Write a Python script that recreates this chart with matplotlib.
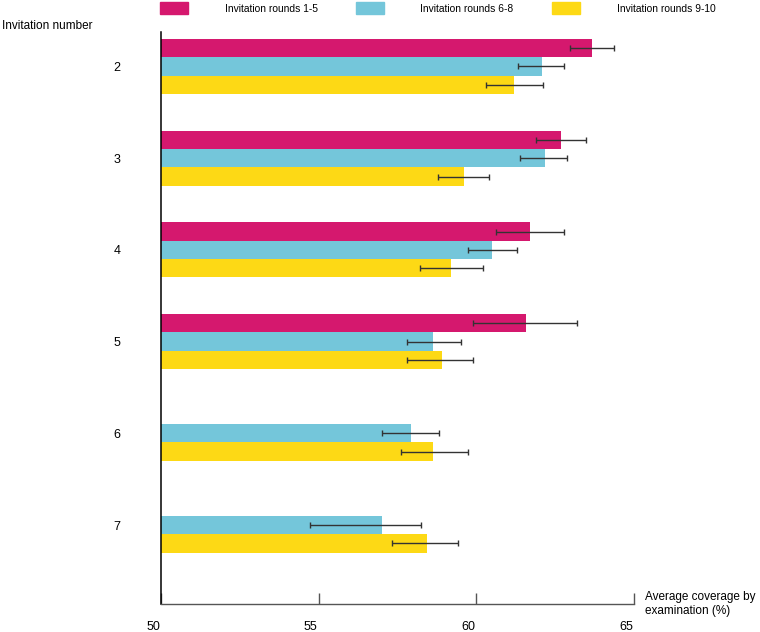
import numpy as np
import matplotlib
matplotlib.use("Agg")
import matplotlib.pyplot as plt
from matplotlib.patches import Rectangle
from matplotlib.transforms import ScaledTranslation

plt.rcParams['font.family'] = ['Liberation Sans', 'DejaVu Sans']

# ---- data ----
invitation_numbers = [2, 3, 4, 5, 6, 7]
series_labels = ["Invitation rounds 1-5", "Invitation rounds 6-8", "Invitation rounds 9-10"]
series_colors = ["#D5186E", "#74C6DA", "#FDD915"]

rounds_1_5 = [63.68, 62.70, 61.69, 61.59, np.nan, np.nan]
rounds_1_5_err_lo = [0.70, 0.80, 1.08, 1.69, np.nan, np.nan]
rounds_1_5_err_hi = [0.70, 0.79, 1.10, 1.60, np.nan, np.nan]

rounds_6_8 = [62.09, 62.19, 60.50, 58.61, 57.93, 57.02]
rounds_6_8_err_lo = [0.78, 0.80, 0.78, 0.80, 0.91, 2.28]
rounds_6_8_err_hi = [0.70, 0.70, 0.80, 0.89, 0.89, 1.21]

rounds_9_10 = [61.19, 59.61, 59.21, 58.92, 58.62, 58.42]
rounds_9_10_err_lo = [0.88, 0.82, 1.00, 1.11, 1.00, 1.08]
rounds_9_10_err_hi = [0.91, 0.80, 0.99, 0.98, 1.10, 1.01]

x_ticks = [50, 55, 60, 65]
x_label = "Average coverage by\nexamination (%)"
y_label = "Invitation number"

# ---- figure ----
W, H = 760, 632
fig = plt.figure(figsize=(W / 100, H / 100), dpi=100)
ax = fig.add_axes([161 / W, 1 - 604 / H, (634 - 161) / W, (604 - 32) / H])

y = np.arange(len(invitation_numbers), dtype=float)
bh = 0.2
series = [
    (rounds_1_5, rounds_1_5_err_lo, rounds_1_5_err_hi),
    (rounds_6_8, rounds_6_8_err_lo, rounds_6_8_err_hi),
    (rounds_9_10, rounds_9_10_err_lo, rounds_9_10_err_hi),
]
offsets = [-bh, 0, bh]
for (vals, lo, hi), off, col in zip(series, offsets, series_colors):
    vals = np.array(vals, dtype=float)
    mask = ~np.isnan(vals)
    ys = y[mask] + off
    ax.barh(ys, vals[mask], height=bh, color=col, left=0, zorder=2)
    ax.errorbar(vals[mask], ys,
                xerr=[np.array(lo)[mask], np.array(hi)[mask]],
                fmt='none', ecolor='#333333', elinewidth=1.0,
                capsize=2.5, capthick=1.0, zorder=3)

ax.set_xlim(50, 65)
ax.set_ylim(len(invitation_numbers) - 1 + 0.861, -0.376)
ax.set_xticks(x_ticks)
ax.set_xticklabels([str(t) for t in x_ticks], fontsize=9)
ax.set_yticks(y)
ax.set_yticklabels([str(n) for n in invitation_numbers], fontsize=9)

for s in ['top', 'right']:
    ax.spines[s].set_visible(False)
ax.spines['left'].set_color('black')
ax.spines['left'].set_linewidth(1.1)
ax.spines['bottom'].set_color('#555555')
ax.spines['bottom'].set_linewidth(1.0)
ax.tick_params(axis='x', direction='in', length=8, width=1, color='#555555', pad=12)
ax.tick_params(axis='y', length=0, pad=29)

# x tick labels sit slightly left of their ticks in the reference
shift = ScaledTranslation(-8 / 100, 0, fig.dpi_scale_trans)
for lbl in ax.get_xticklabels():
    lbl.set_transform(lbl.get_transform() + shift)

# axis titles
fig.text(2 / W, 1 - 26 / H, y_label, fontsize=8.5, ha='left', va='center')
fig.text(645 / W, 1 - 604 / H, x_label, fontsize=8.5, ha='left', va='center',
         linespacing=1.25)

# legend at top
patch_x = [160, 356, 552]
text_x = [225, 420, 617]
for px, tx, col, lab in zip(patch_x, text_x, series_colors, series_labels):
    fig.add_artist(Rectangle((px / W, 1 - 14 / H), 28 / W, 12 / H,
                             transform=fig.transFigure, color=col))
    fig.text(tx / W, 1 - 9 / H, lab, fontsize=7.4, ha='left', va='center')

fig.savefig("out.png", dpi=100)
